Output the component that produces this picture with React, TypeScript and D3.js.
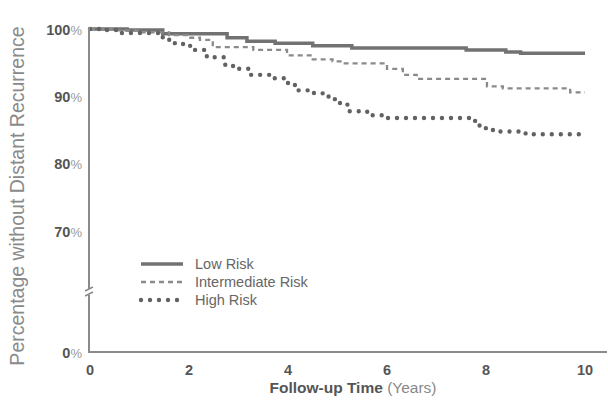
import React from 'react';
import * as d3 from 'd3';

type Pt = [number, number];

// step points: [year, percent]
const lowRisk: Pt[] = [
  [0, 100], [0.75, 99.85], [1.47, 99.3], [2.77, 98.7], [3.17, 98.2], [3.74, 97.9],
  [4.5, 97.5], [5.29, 97.2], [7.6, 96.9], [8.4, 96.6], [8.7, 96.4], [10, 96.4],
];
const intermediateRisk: Pt[] = [
  [0, 100], [0.5, 99.8], [1.0, 99.5], [1.6, 99.1], [2.0, 98.7], [2.22, 98.4],
  [2.48, 97.3], [3.3, 96.9], [3.98, 96.1], [4.5, 95.5], [4.9, 95.2], [5.1, 94.9],
  [6.0, 94.1], [6.32, 93.2], [6.6, 92.6], [8.02, 91.5], [8.34, 91.2], [9.7, 90.6], [10, 90.6],
];
const highRisk: Pt[] = [
  [0, 100], [0.2, 99.85], [0.6, 99.4], [1.47, 98.4], [1.68, 97.9], [1.88, 97.5],
  [2.08, 96.9], [2.36, 95.8], [2.73, 94.7], [2.89, 94.1], [3.23, 93.2], [3.68, 92.7],
  [4.0, 91.7], [4.14, 90.9], [4.5, 90.5], [4.7, 90.0], [4.9, 89.6], [5.05, 88.9],
  [5.2, 87.8], [5.6, 87.2], [6.0, 86.8], [7.78, 85.7], [7.98, 85.3], [8.14, 84.8],
  [8.8, 84.4], [10, 84.4],
];

const xTicks = [0, 2, 4, 6, 8, 10];
const yTicks = [0, 70, 80, 90, 100];
const legendLabels = ['Low Risk', 'Intermediate Risk', 'High Risk'];

const W = 608;
const H = 402;

export default function App() {
  const x = d3.scaleLinear().domain([0, 10]).range([90, 585]);
  // broken axis: 0..61 squeezed into the bottom band
  const y = d3.scaleLinear().domain([0, 61, 100]).range([352, 292, 29]);

  const line = d3.line<Pt>()
    .x(d => x(d[0]))
    .y(d => y(d[1]))
    .curve(d3.curveStepAfter);

  const series = [
    { data: lowRisk, dash: undefined, width: 3.5, cap: 'butt', color: '#727272' },
    { data: intermediateRisk, dash: '5 4', width: 2.3, cap: 'butt', color: '#8a8a8a' },
    { data: highRisk, dash: '0 9', width: 4.4, cap: 'round', color: '#626262' },
  ];

  const axisX = x(0) - 1;
  const axisY = y(0);
  const breakY = y(61);

  return (
    <svg width={W} height={H} style={{ position: 'fixed', left: 0, top: 0, background: '#fff' }}
      fontFamily="'Liberation Sans', Arial, sans-serif">
      {/* curves */}
      {series.map((s, i) => (
        <path key={i} d={line(s.data) || ''} fill="none" stroke={s.color}
          strokeWidth={s.width} strokeDasharray={s.dash} strokeLinecap={s.cap as any} />
      ))}

      {/* axes */}
      <line x1={axisX} x2={axisX} y1={27} y2={axisY + 1} stroke="#8a8a8a" strokeWidth={2} />
      <line x1={axisX - 1} x2={607} y1={axisY} y2={axisY} stroke="#8a8a8a" strokeWidth={2} />
      {/* axis break */}
      <rect x={axisX - 4} y={breakY - 3} width={8} height={6} fill="#fff" />
      <line x1={axisX - 4} y1={breakY - 1} x2={axisX + 4} y2={breakY - 5} stroke="#8a8a8a" strokeWidth={1.5} />
      <line x1={axisX - 4} y1={breakY + 4} x2={axisX + 4} y2={breakY} stroke="#8a8a8a" strokeWidth={1.5} />

      {/* y tick labels */}
      {yTicks.map(t => (
        <text key={t} x={82} y={y(t)} dy="0.35em" textAnchor="end" fontWeight="bold">
          <tspan fill="#555" fontSize={14.5}>{t}</tspan>
          <tspan fill="#999" fontSize={13} fontWeight="normal">%</tspan>
        </text>
      ))}

      {/* x tick labels */}
      {xTicks.map(t => (
        <text key={t} x={x(t)} y={370} dy="0.35em" textAnchor="middle" fontWeight="bold"
          fill="#555" fontSize={14.5}>{t}</text>
      ))}

      {/* x title */}
      <text x={353} y={393} textAnchor="middle" fontSize={15.5}>
        <tspan fontWeight="bold" fill="#555">Follow-up Time </tspan>
        <tspan fill="#888">(Years)</tspan>
      </text>

      {/* y title */}
      <text transform="translate(24,196) rotate(-90)" textAnchor="middle" fontSize={19.5} fill="#8a8a8a">
        Percentage without Distant Recurrence
      </text>

      {/* legend */}
      {legendLabels.map((label, i) => {
        const ly = 264 + i * 18;
        const s = series[i];
        return (
          <g key={label}>
            <line x1={141} x2={183} y1={ly} y2={ly} stroke={s.color} strokeWidth={s.width}
              strokeDasharray={s.dash} strokeLinecap={s.cap as any} />
            <text x={195} y={ly} dy="0.35em" fontSize={14.5} fill="#666">{label}</text>
          </g>
        );
      })}
    </svg>
  );
}
